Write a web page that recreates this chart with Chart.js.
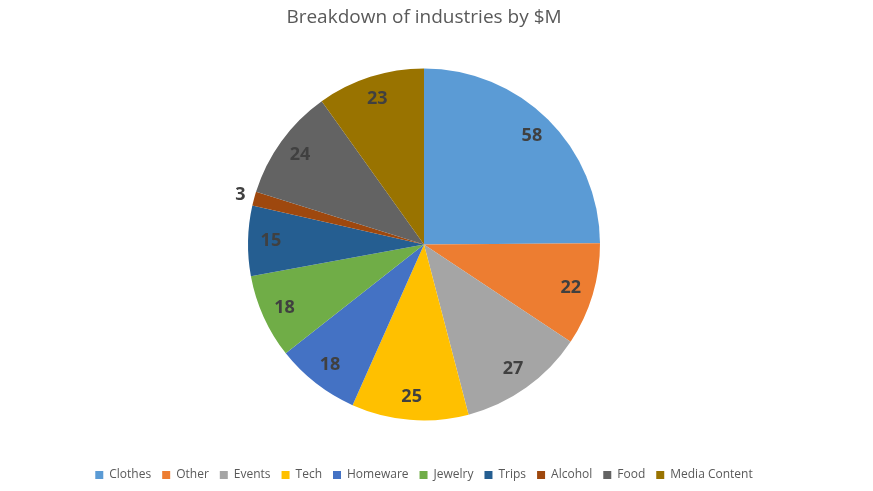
<!DOCTYPE html>
<html>
<head>
<meta charset="utf-8">
<script src="https://cdn.jsdelivr.net/npm/chart.js@4/dist/chart.umd.min.js"></script>
<style>
  html, body { margin: 0; padding: 0; background: #fff; }
  #wrap { width: 873px; height: 491px; }
</style>
</head>
<body>
<div id="wrap"><canvas id="pieChart"></canvas></div>
<script>
// chart data
const categories = ['Clothes', 'Other', 'Events', 'Tech', 'Homeware', 'Jewelry', 'Trips', 'Alcohol', 'Food', 'Media Content'];
const values = [58, 22, 27, 25, 18, 18, 15, 3, 24, 23];
const colors = ['#5B9BD5', '#ED7D31', '#A5A5A5', '#FFC000', '#4472C4', '#70AD47', '#255E91', '#9E480E', '#636363', '#997300'];

// Slice value labels, drawn near the rim (small slices go outside)
const sliceLabels = {
    id: 'sliceLabels',
    afterDatasetsDraw(chart) {
        const ctx = chart.ctx;
        const meta = chart.getDatasetMeta(0);
        ctx.save();
        ctx.font = 'bold 18px "Open Sans", "Liberation Sans", sans-serif';
        ctx.fillStyle = '#404040';
        ctx.textAlign = 'center';
        ctx.textBaseline = 'middle';
        meta.data.forEach((arc, i) => {
            const p = arc.getProps(['x', 'y', 'startAngle', 'endAngle', 'outerRadius']);
            const mid = (p.startAngle + p.endAngle) / 2;
            const span = p.endAngle - p.startAngle;
            const r = span < 0.15 ? p.outerRadius * 1.08 : p.outerRadius * 0.87;
            ctx.fillText(values[i], p.x + Math.cos(mid) * r, p.y + Math.sin(mid) * r);
        });
        ctx.restore();
    }
};

document.addEventListener('DOMContentLoaded', () => {
    const el = document.getElementById('pieChart');
    new Chart(el, {
        type: 'pie',
        data: {
            labels: categories,
            datasets: [{
                data: values,
                backgroundColor: colors,
                borderWidth: 0,
                radius: 176
            }]
        },
        options: {
            responsive: true,
            maintainAspectRatio: false,
            animation: false,
            layout: { padding: { top: 0, bottom: 0, left: 0, right: 25 } },
            plugins: {
                title: {
                    display: true,
                    text: 'Breakdown of industries by $M',
                    color: '#595959',
                    font: { family: '"Open Sans", "Liberation Sans", sans-serif', size: 19, weight: 'normal' },
                    padding: { top: 6, bottom: 2 }
                },
                legend: {
                    position: 'bottom',
                    labels: {
                        boxWidth: 8,
                        boxHeight: 8,
                        padding: 11,
                        color: '#595959',
                        font: { family: '"Open Sans", "Liberation Sans", sans-serif', size: 12 }
                    }
                },
                tooltip: { enabled: false }
            }
        },
        plugins: [sliceLabels]
    });
});
</script>
</body>
</html>
